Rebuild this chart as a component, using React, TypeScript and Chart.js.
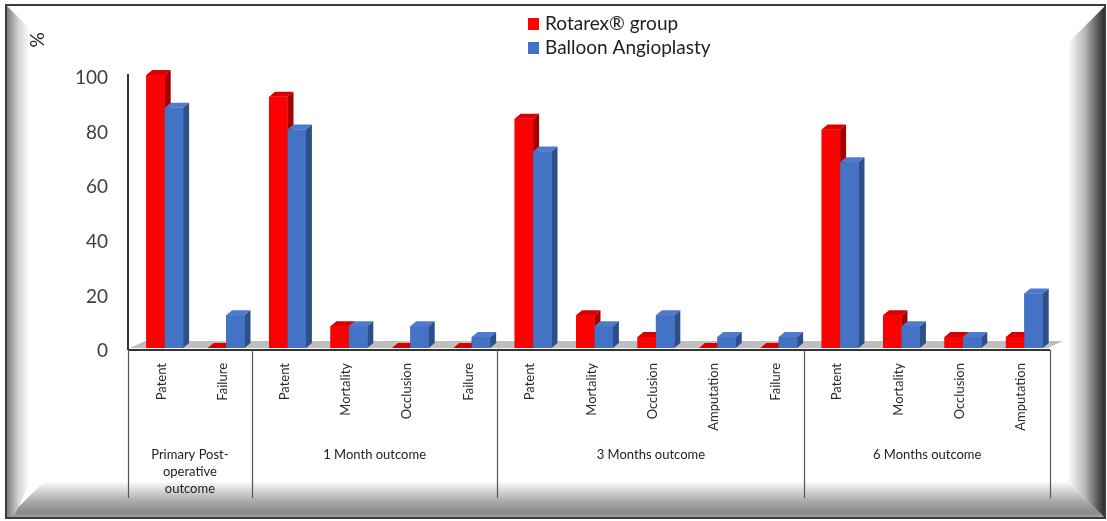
import React, { useEffect, useRef } from "react";
import { Chart, registerables } from "chart.js";

Chart.register(...registerables);

const categories = [
  "Patent", "Failure",
  "Patent", "Mortality", "Occlusion", "Failure",
  "Patent", "Mortality", "Occlusion", "Amputation", "Failure",
  "Patent", "Mortality", "Occlusion", "Amputation",
];
const groupLabels = [
  ["Primary Post-", "operative", "outcome"],
  ["1 Month outcome"],
  ["3 Months outcome"],
  ["6 Months outcome"],
];
const groupSizes = [2, 4, 5, 4];
const seriesNames = ["Rotarex\u00AE group", "Balloon Angioplasty"];
const rotarex = [100, 0, 92, 8, 0, 0, 84, 12, 4, 0, 0, 80, 12, 4, 4];
const balloon = [88, 12, 80, 8, 8, 4, 72, 8, 12, 4, 4, 68, 8, 4, 20];
const yAxisTitle = "%";

const FONT = "Lato, 'Open Sans', 'DejaVu Sans', sans-serif";
const faces = [
  { front: "#ff0000", top: "#d60000", side: "#a60000" },
  { front: "#4472c4", top: "#4f7bcc", side: "#2d4f8c" },
];

function poly(ctx: CanvasRenderingContext2D, pts: number[][], fill: any) {
  ctx.beginPath();
  ctx.moveTo(pts[0][0], pts[0][1]);
  for (let i = 1; i < pts.length; i++) ctx.lineTo(pts[i][0], pts[i][1]);
  ctx.closePath();
  ctx.fillStyle = fill;
  ctx.fill();
}

const framePlugin = {
  id: "frame",
  beforeDraw(chart: any) {
    const ctx: CanvasRenderingContext2D = chart.ctx;
    const W = chart.width, H = chart.height;
    ctx.save();
    ctx.fillStyle = "#ffffff";
    ctx.fillRect(0, 0, W, H);
    const oL = 7, oT = 6, oR = 1105, oB = 518;
    const iL = 30, iR = 1068, iB = 482;
    // bottom bevel
    let g = ctx.createLinearGradient(0, iB, 0, oB);
    g.addColorStop(0, "#fafafa");
    g.addColorStop(0.55, "#a8a8a8");
    g.addColorStop(0.85, "#8a8a8a");
    g.addColorStop(1, "#a5a5a5");
    poly(ctx, [[oL, oB], [iL + 14, iB], [iR, iB], [oR, oB]], g);
    // left bevel
    g = ctx.createLinearGradient(oL, 0, iL, 0);
    g.addColorStop(0, "#7c7c7c");
    g.addColorStop(0.5, "#d4d4d4");
    g.addColorStop(1, "#ffffff");
    poly(ctx, [[oL, oT], [iL, oT + (iL - oL)], [iL, iB], [oL + 8, oB - 4], [oL, oB]], g);
    // right bevel
    g = ctx.createLinearGradient(iR, 0, oR, 0);
    g.addColorStop(0, "#ffffff");
    g.addColorStop(0.45, "#b8b8b8");
    g.addColorStop(0.8, "#5a5a5a");
    g.addColorStop(1, "#2a2a2a");
    poly(ctx, [[oR, oT], [iR, oT + (oR - iR)], [iR, iB], [oR, oB]], g);
    // outer border
    ctx.strokeStyle = "#3c3c3c";
    ctx.lineWidth = 2;
    ctx.strokeRect(oL - 1, oT - 1, oR - oL + 1, oB - oT + 1);
    ctx.restore();
  },
};

const bar3dPlugin = {
  id: "bar3d",
  beforeDatasetsDraw(chart: any) {
    const ctx: CanvasRenderingContext2D = chart.ctx;
    const ys = chart.scales.y;
    const xs = chart.scales.x;
    const y0 = ys.getPixelForValue(0);
    const left = xs.left - 4;
    const right = xs.right - 7;
    ctx.save();
    poly(ctx, [[left, y0], [left + 15, y0 - 7], [right + 15, y0 - 7], [right, y0]], "#bfbfbf");
    ctx.restore();
  },
  afterDatasetsDraw(chart: any) {
    const ctx: CanvasRenderingContext2D = chart.ctx;
    const dx = 6, dy = 5;
    ctx.save();
    chart.data.datasets.forEach((_ds: any, i: number) => {
      const meta = chart.getDatasetMeta(i);
      const f = faces[i];
      meta.data.forEach((el: any) => {
        const { x, y, base, width } = el.getProps(["x", "y", "base", "width"], true);
        const l = x - width / 2, r = x + width / 2;
        ctx.fillStyle = f.front;
        ctx.fillRect(l, y, width, base - y);
        poly(ctx, [[l, y], [l + dx, y - dy], [r + dx, y - dy], [r, y]], f.top);
        poly(ctx, [[r, y], [r + dx, y - dy], [r + dx, base - dy], [r, base]], f.side);
      });
    });
    ctx.restore();
  },
};

const decorPlugin = {
  id: "decor",
  afterDraw(chart: any) {
    const ctx: CanvasRenderingContext2D = chart.ctx;
    const xs = chart.scales.x;
    const ys = chart.scales.y;
    const shift = -5;
    const y0 = ys.getPixelForValue(0);
    const axisY = y0 + 2;
    const axisX = chart.chartArea.left - 6;
    const labelBottom = 498;
    ctx.save();
    // y axis line
    ctx.strokeStyle = "#333333";
    ctx.lineWidth = 2;
    ctx.beginPath();
    ctx.moveTo(axisX, ys.getPixelForValue(100) - 1);
    ctx.lineTo(axisX, axisY);
    ctx.stroke();
    // x axis line
    const xEnd = xs.getPixelForValue(categories.length - 0.5) + shift;
    ctx.beginPath();
    ctx.moveTo(axisX, axisY);
    ctx.lineTo(xEnd, axisY);
    ctx.stroke();
    // group dividers
    ctx.strokeStyle = "#555555";
    ctx.lineWidth = 1.2;
    let idx = 0;
    const bounds: number[] = [axisX];
    groupSizes.forEach((n) => {
      idx += n;
      bounds.push(xs.getPixelForValue(idx - 0.5) + shift);
    });
    bounds.forEach((bx) => {
      ctx.beginPath();
      ctx.moveTo(Math.round(bx) + 0.5, axisY);
      ctx.lineTo(Math.round(bx) + 0.5, labelBottom);
      ctx.stroke();
    });
    // category labels
    ctx.fillStyle = "#2a2a2a";
    ctx.font = `13px ${FONT}`;
    ctx.textAlign = "right";
    ctx.textBaseline = "middle";
    categories.forEach((c, i) => {
      const px = xs.getPixelForValue(i) - 3;
      ctx.save();
      ctx.translate(px, axisY + 13);
      ctx.rotate(-Math.PI / 2);
      ctx.fillText(c, 0, 0);
      ctx.restore();
    });
    // group labels
    ctx.font = `13px ${FONT}`;
    ctx.textAlign = "center";
    ctx.fillStyle = "#222222";
    groupLabels.forEach((lines, gi) => {
      const cx = (bounds[gi] + bounds[gi + 1]) / 2;
      lines.forEach((t, li) => ctx.fillText(t, cx, 455 + li * 17));
    });
    // legend
    ctx.font = `19px ${FONT}`;
    ctx.textAlign = "left";
    ctx.textBaseline = "middle";
    seriesNames.forEach((s, i) => {
      const ly = 24 + i * 24;
      ctx.fillStyle = faces[i].front;
      ctx.fillRect(528, ly - 6, 11, 12);
      ctx.fillStyle = "#222222";
      ctx.fillText(s, 545, ly);
    });
    // y axis title
    ctx.save();
    ctx.translate(38, 40);
    ctx.rotate(-Math.PI / 2);
    ctx.font = `19px ${FONT}`;
    ctx.textAlign = "center";
    ctx.fillStyle = "#222222";
    ctx.fillText(yAxisTitle, 0, 0);
    ctx.restore();
    ctx.restore();
  },
};

export default function App() {
  const ref = useRef<HTMLCanvasElement>(null);
  useEffect(() => {
    const chart = new Chart(ref.current as HTMLCanvasElement, {
      type: "bar",
      data: {
        labels: categories,
        datasets: [
          { label: seriesNames[0], data: rotarex, backgroundColor: faces[0].front },
          { label: seriesNames[1], data: balloon, backgroundColor: faces[1].front },
        ],
      },
      options: {
        animation: false,
        responsive: false,
        layout: { padding: { top: 75, bottom: 173, left: 0, right: 52 } },
        plugins: { legend: { display: false }, tooltip: { enabled: false } },
        datasets: { bar: { categoryPercentage: 0.6, barPercentage: 1 } },
        scales: {
          x: { display: false },
          y: {
            min: 0,
            max: 100,
            afterFit: (s: any) => {
              s.width = 134;
            },
            ticks: {
              stepSize: 20,
              padding: 18,
              labelOffset: 3,
              color: "#404040",
              font: { family: FONT, size: 19 },
            },
            grid: { display: false },
            border: { display: false },
          },
        },
      } as any,
      plugins: [framePlugin, bar3dPlugin, decorPlugin],
    });
    return () => chart.destroy();
  }, []);
  return (
    <div style={{ position: "absolute", left: 0, top: 0, width: 1107, height: 521 }}>
      <canvas ref={ref} width={1107} height={521} style={{ display: "block" }} />
    </div>
  );
}
